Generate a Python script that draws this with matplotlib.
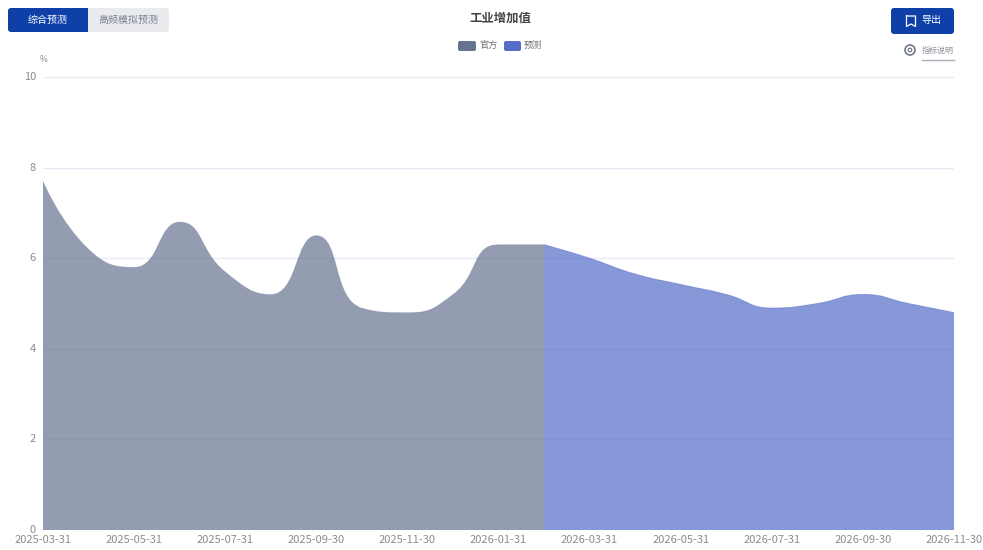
import matplotlib
matplotlib.use("Agg")
import matplotlib.pyplot as plt
from matplotlib.patches import FancyBboxPatch, PathPatch, Rectangle, Circle
from matplotlib.path import Path

plt.rcParams['font.family'] = ['Noto Sans CJK SC', 'DejaVu Sans']

dates = ["2025-03-31", "2025-04-30", "2025-05-31", "2025-06-30", "2025-07-31", "2025-08-31",
         "2025-09-30", "2025-10-31", "2025-11-30", "2025-12-31", "2026-01-31", "2026-02-28",
         "2026-03-31", "2026-04-30", "2026-05-31", "2026-06-30", "2026-07-31", "2026-08-31",
         "2026-09-30", "2026-10-31", "2026-11-30"]
official = [7.7, 6.2, 5.8, 6.8, 5.7, 5.2, 6.5, 4.9, 4.8, 5.2, 6.3, 6.3]
forecast = [6.3, 6.0, 5.65, 5.42, 5.2, 4.9, 5.0, 5.2, 5.0, 4.8]
yticks = [0, 2, 4, 6, 8, 10]

GRAY = "#667390"
BLUE = "#556cc8"
DARK_BLUE = "#0f40a8"


# same idea as the echarts smooth line: bezier handles clamped to the neighbours
def smooth_path(xs, ys, smooth=0.5):
    n = len(xs)
    verts = [(xs[0], ys[0])]
    codes = [Path.MOVETO]
    out = (xs[0], ys[0])
    for i in range(1, n):
        x, y = xs[i], ys[i]
        if i == n - 1:
            verts += [out, (x, y), (x, y)]
            codes += [Path.CURVE4] * 3
            break
        px, py = xs[i - 1], ys[i - 1]
        nx, ny = xs[i + 1], ys[i + 1]
        len_prev = ((x - px) ** 2 + (y - py) ** 2) ** 0.5
        len_next = ((nx - x) ** 2 + (ny - y) ** 2) ** 0.5
        ratio = len_next / (len_prev + len_next)
        vx = (nx - px) * smooth
        vy = (ny - py) * smooth
        ny0 = y + vy * ratio
        ny0 = max(min(ny0, max(ny, y)), min(ny, y))
        nx0 = x + vx * ratio
        vx, vy = nx0 - x, ny0 - y
        cx1 = x - vx * len_prev / len_next
        cy1 = y - vy * len_prev / len_next
        clamped = max(min(cy1, max(py, y)), min(py, y))
        if clamped != cy1:
            cy1 = clamped
            vy = y - cy1
            vx = x - cx1
            nx0 = x + vx * len_next / len_prev
            ny0 = y + vy * len_next / len_prev
        verts += [out, (cx1, cy1), (x, y)]
        codes += [Path.CURVE4] * 3
        out = (nx0, ny0)
    return verts, codes


def draw_area(ax, xs, ys, color, edge_alpha):
    verts, codes = smooth_path(xs, ys)
    line = Path(verts, codes)
    area = Path(verts + [(xs[-1], 0), (xs[0], 0), (xs[0], ys[0])],
                codes + [Path.LINETO, Path.LINETO, Path.LINETO])
    ax.add_patch(PathPatch(area, facecolor=color, edgecolor="none", alpha=0.7, zorder=2))
    ax.add_patch(PathPatch(line, facecolor="none", edgecolor=color, lw=0.7, alpha=edge_alpha, zorder=3))


fig = plt.figure(figsize=(9.83, 5.5), dpi=100)
ax = fig.add_axes([43 / 983, 20 / 550, 911 / 983, 453 / 550])

x_official = list(range(len(official)))
x_forecast = list(range(len(official) - 1, len(dates)))
draw_area(ax, x_official, official, GRAY, 0.15)
draw_area(ax, x_forecast, forecast, BLUE, 0.5)

ax.set_xlim(0, len(dates) - 1)
ax.set_ylim(0, 10)
ax.set_yticks(yticks)
ax.set_xticks(range(0, len(dates), 2))
ax.set_xticklabels(dates[::2])
ax.tick_params(length=0, labelsize=8, labelcolor="#8c8c8c")
ax.tick_params(axis="x", pad=3.5)
ax.tick_params(axis="y", pad=5)
for t in ax.get_yticklabels():
    t.set_verticalalignment("center")
    t.set_y(t.get_position()[1])
ax.grid(axis="y", color="#e6e9f6", lw=0.9)
ax.set_axisbelow(True)
for s in ax.spines.values():
    s.set_visible(False)

# page controls round the chart, in pixel coordinates
ui = fig.add_axes([0, 0, 1, 1], zorder=5)
ui.set_xlim(0, 983)
ui.set_ylim(550, 0)
ui.axis("off")
ui.patch.set_alpha(0)


def button(x0, y0, x1, y1, color, r=3):
    ui.add_patch(FancyBboxPatch((x0 + r, y0 + r), x1 - x0 - 2 * r, y1 - y0 - 2 * r,
                                boxstyle=f"round,pad={r},rounding_size={r}",
                                facecolor=color, edgecolor="none"))


button(8, 8, 169, 32, "#e9ebef")
button(8, 8, 60, 32, DARK_BLUE)
ui.add_patch(Rectangle((50, 8), 38, 24, facecolor=DARK_BLUE, edgecolor="none"))
ui.text(48, 20, "综合预测", color="white", fontsize=7.2, ha="center", va="center")
ui.text(128.5, 20, "高频模拟预测", color="#7a7f8a", fontsize=7.2, ha="center", va="center")
ui.text(500.5, 18.5, "工业增加值", color="#444444", fontsize=8.9, weight="bold", ha="center", va="center")

button(458, 41, 476, 51, GRAY, r=2)
ui.text(479, 45.5, "官方", color="#737373", fontsize=6.6, ha="left", va="center")
button(504, 41, 521, 51, BLUE, r=2)
ui.text(524, 45.5, "预测", color="#737373", fontsize=6.6, ha="left", va="center")

button(891, 8, 954, 34, DARK_BLUE)
ui.plot([906.5, 906.5, 911, 915.5, 915.5, 906.5], [16, 26.5, 24, 26.5, 16, 16], color="white", lw=0.9)
ui.text(921, 20.5, "导出", color="white", fontsize=7.2, ha="left", va="center")

ui.add_patch(Circle((910, 50), 5, facecolor="none", edgecolor="#70778a", lw=1.2))
ui.add_patch(Circle((910, 50), 1.8, facecolor="none", edgecolor="#70778a", lw=0.9))
ui.text(938, 50, "指标说明", color="#8e93a0", fontsize=5.8, ha="center", va="center")
ui.plot([922, 954], [60, 60], color="#a9aebc", lw=1)

ui.text(43.5, 59.5, "%", color="#8a8a8a", fontsize=6, ha="center", va="center")

fig.savefig("out.png", dpi=100)
